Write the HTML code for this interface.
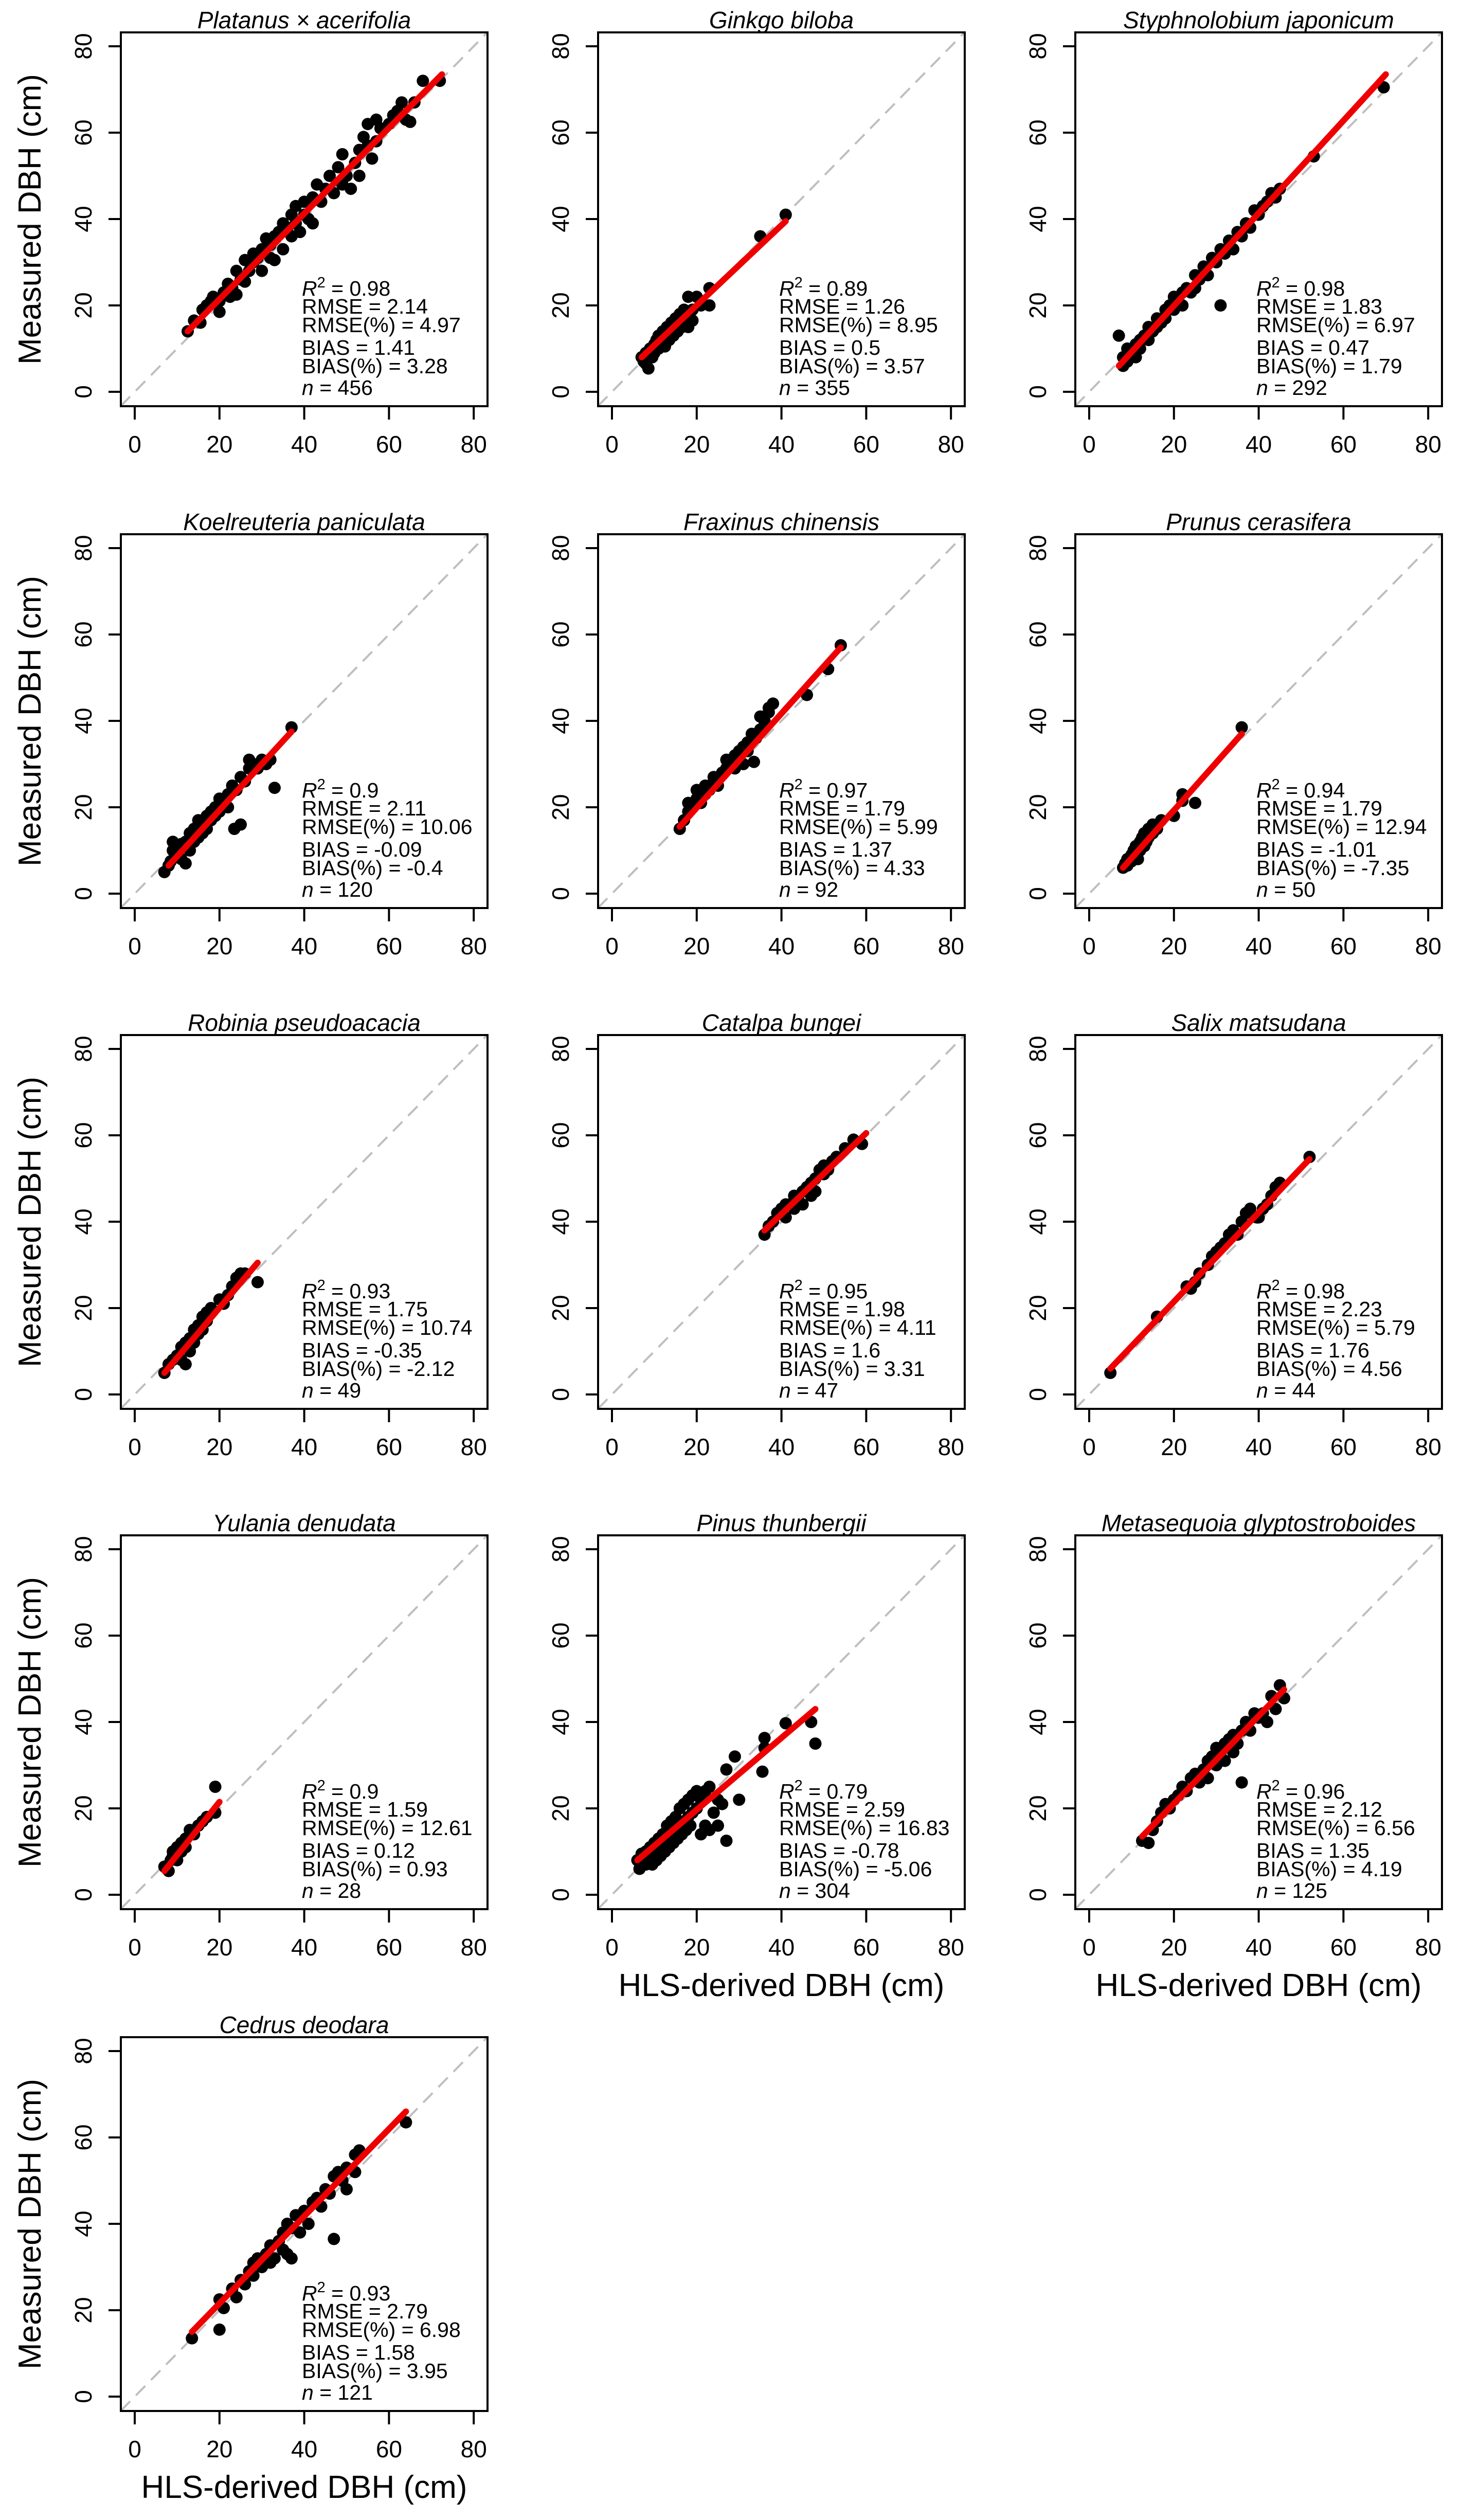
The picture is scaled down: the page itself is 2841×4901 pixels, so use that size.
<!DOCTYPE html>
<html><head><meta charset="utf-8">
<style>
html,body{margin:0;padding:0;background:#fff;}
svg{display:block;font-family:"Liberation Sans",Arial,sans-serif;}
</style></head>
<body>
<svg id="fig" width="2841" height="4901" viewBox="0 0 2841 4901" xmlns="http://www.w3.org/2000/svg"></svg>
<script>
const species = ["Platanus × acerifolia","Ginkgo biloba","Styphnolobium japonicum","Koelreuteria paniculata","Fraxinus chinensis","Prunus cerasifera","Robinia pseudoacacia","Catalpa bungei","Salix matsudana","Yulania denudata","Pinus thunbergii","Metasequoia glyptostroboides","Cedrus deodara"];
const r2 = ["0.98","0.89","0.98","0.9","0.97","0.94","0.93","0.95","0.98","0.9","0.79","0.96","0.93"];
const rmse = ["2.14","1.26","1.83","2.11","1.79","1.79","1.75","1.98","2.23","1.59","2.59","2.12","2.79"];
const rmsePct = ["4.97","8.95","6.97","10.06","5.99","12.94","10.74","4.11","5.79","12.61","16.83","6.56","6.98"];
const bias = ["1.41","0.5","0.47","-0.09","1.37","-1.01","-0.35","1.6","1.76","0.12","-0.78","1.35","1.58"];
const biasPct = ["3.28","3.57","1.79","-0.4","4.33","-7.35","-2.12","3.31","4.56","0.93","-5.06","4.19","3.95"];
const nObs = ["456","355","292","120","92","50","49","47","44","28","304","125","121"];
const fitX0 = [12.5,7,7,8,16,8,7,36,5,7,6,12.5,13.5];
const fitY0 = [14,8,6,6.5,15.5,6,5,38,6,5.5,8,13.5,15];
const fitX1 = [72.5,41,70,37,54,36,29,60,52,20,48,46,64];
const fitY1 = [73.5,39.5,73.5,37.5,57,37,30.5,60.5,54.5,21.5,43,47.5,66];
const tickVals = [0,20,40,60,80];
const tickLabels = ["0","20","40","60","80"];
const pts = [
[[12.5,14],[14,16.5],[15.5,16],[16,19],[17,20],[18,21],[18.5,22],[20,18.5],[20,21],[21,23],[22,25],[22.5,22],[23,24],[24,22.5],[24,28],[25,26],[26,30.5],[26,25.5],[27,28],[28,30],[28,32],[29,31],[30,28],[30,33],[31,35.5],[32,31],[32,34],[33,36],[33,30.5],[34,37],[35,33],[35,39],[36,38],[37,41],[37,36],[38,39],[38,43],[39,37],[40,44],[40,41],[41,40],[42,45],[42,39],[43,48],[44,44],[45,47],[46,50],[47,46],[48,52],[49,48],[49,55],[50,50],[51,47],[52,53],[53,56],[53,50],[54,59],[55,57],[55,62],[56,54],[57,63],[57,58],[58,61],[60,62],[61,64],[62,65],[63,67],[64,63],[65,62.5],[66,67],[68,72],[72,72]],
[[7,8],[7.5,7],[8,9],[8,6.5],[8.6,5.4],[9,10],[9.5,8],[10,11],[10,9],[10.5,12],[11,10],[11,13],[11.5,11],[12,12],[12,14],[12.5,10.5],[13,13],[13,15],[13.5,12],[14,14],[14,16],[14.5,13],[15,15],[15,17],[15.5,14],[16,16],[16,18],[16.5,15],[17,17],[17,19],[17.5,16],[18,18],[18,15],[19,19],[19,16.5],[18,22],[20,22],[21,20],[23,24],[23,20],[35,36],[41,41]],
[[7,13],[8,6],[8,8],[9,7],[9,10],[10,9],[11,11],[11,8],[12,12],[12,10],[13,13],[14,12],[14,15],[15,14],[16,17],[16,15],[17,16],[18,19],[18,17],[19,20],[20,19],[20,22],[21,21],[22,23],[22,20],[23,24],[24,23],[25,27],[25,24],[26,26],[27,29],[28,27],[29,31],[30,30],[31,20],[31,33],[32,32],[33,35],[34,33],[35,37],[36,36],[37,39],[38,38],[39,42],[40,41],[41,43],[42,44],[43,46],[44,45],[45,47],[53,54.5],[69.5,70.5]],
[[7,5],[8,6.5],[8.5,7.5],[9,10],[9,12],[10,9],[10,11],[11,8],[11,11.5],[12,7],[12,12],[13,10],[13,14],[14,12],[14,15],[15,13],[15,17],[16,14],[16,16],[17,18],[17,15],[18,19],[18,17],[19,20],[19,18],[20,22],[20,19],[21,21],[22,23],[22,20],[23,25],[23.5,15],[24,24],[25,16],[25,27],[26,26],[27,29],[27,31],[28,30],[29,29],[30,31],[31,30],[32,31],[33,24.5],[37,38.5]],
[[16,15],[17,17],[18,19],[18,21],[19,20],[20,22],[20,24],[21,21],[22,23],[22,25],[23,24],[24,26],[24,27],[25,25],[26,28],[27,29],[27,31],[28,30],[29,32],[29,29],[30,33],[31,34],[31,30],[32,35],[32,33],[33,37],[33.5,30.5],[34,36],[35,38],[35,41],[36,40],[37,43],[37,42],[38,44],[46,46],[51,52],[54,57.5]],
[[8,6],[8.5,7],[9,8],[9,6.5],[10,9],[10,7.5],[10.5,10],[11,9],[11,11],[11.5,8],[12,12],[12,10],[12.5,13],[13,11],[13,14],[13.5,12],[14,15],[14,13],[15,16],[15,14],[16,15],[17,17],[20,18],[22,23],[22,21.5],[25,21],[36,38.5]],
[[7,5],[8,7],[9,8],[10,9],[11,8],[11,11],[12,7],[12,12],[13,10],[13,13],[14,12],[14,15],[15,14],[15,16],[16,15],[16,18],[17,17],[17,19],[18,20],[20,22],[21,21],[22,23],[23,25],[24,27],[25,28],[26,28],[29,26]],
[[36,37],[37,39],[38,40],[39,42],[40,43],[41,41],[41,44],[42,44],[43,43],[43,46],[44,45],[45,47],[45,44],[46,48],[47,46],[47,49],[48,50],[48,47],[49,52],[50,51],[50,53],[51,52],[52,54],[53,55],[55,57],[57,59],[59,58]],
[[5,5],[16,18],[23,25],[24,24.5],[25,26],[26,28],[28,30],[29,32],[30,33],[31,34],[32,35],[33,37],[34,38],[35,37],[36,40],[37,42],[38,43],[39.5,41],[40,41],[41,43],[42,44],[43,46],[44,48],[45,49],[52,55]],
[[7,6.5],[8,5.5],[8.5,8],[9,9],[9,10],[10,8],[10,11],[11,12],[11,10],[12,11],[12,13],[13,15],[14,14],[15,16],[16,17],[17,18],[19,19],[19,25]],
[[6,8],[6.5,6],[7,8],[7,9.5],[8,7],[8,10],[8.5,9],[9,8],[9,11],[9.5,7],[10,10],[10,12],[10.5,8],[11,11],[11,13],[11.5,9],[12,12],[12,14],[12.5,10],[13,13],[13,16],[13.5,11],[14,14],[14,17],[14.5,12],[15,15],[15,18],[15.5,13],[16,16],[16,20],[16.5,14],[17,17],[17,21],[17.5,15],[18,18],[18,22],[18.5,16],[19,19],[19,23],[20,20],[20,24],[21,22],[21,14],[22,24],[22,16],[23,15],[23,25],[24,19],[25,16],[25,22],[26,21],[27,12.5],[27,29],[29,32],[30,22],[35.5,28.5],[36,36.3],[36,34],[41,39.7],[47,40],[48,35]],
[[12.5,12.5],[14,12],[15,15],[16,17],[17,19],[18,21],[19,20],[20,22],[21,23],[22,25],[23,24],[24,27],[25,28],[26,26],[27,29],[28,31],[28,27],[29,32],[30,30],[30,34],[31,33],[32,35],[32,31],[33,36],[34,37],[34,33],[35,35],[36,26],[36,38],[37,40],[38,38],[39,42],[40,41],[41,42],[42,40],[43,46],[44,43],[45,48.5],[46,45.5]],
[[13.5,13.5],[20,15.5],[20,22.5],[21,20.5],[23,25],[24,23],[25,27],[26,26],[27,29],[28,31],[28,28],[29,32],[30,30],[31,33],[32,35],[32,31],[33,32],[34,36],[35,34],[35,38],[36,40],[36,33],[37,32],[37,39],[38,42],[39,38],[40,43],[41,40],[42,45],[43,46],[44,44],[45,48],[46,47],[47,36.5],[47,51],[48,52],[49,50],[50,53],[50,48],[52,52],[52,56],[53,57],[64,63.5]]
];

const NS = "http://www.w3.org/2000/svg";
const svg = document.getElementById("fig");
const colL = [235,1163,2091];
const rowT = [63,1039,2013,2986,3962];
const BW = 713, BH = 727;
function mk(tag, attrs, parent){
  const e = document.createElementNS(NS, tag);
  for (const k in attrs) e.setAttribute(k, attrs[k]);
  parent.appendChild(e);
  return e;
}
const defs = mk("defs", {}, svg);

species.forEach((sp, i) => {
  const r = Math.floor(i/3), c = i%3;
  const L = colL[c], T = rowT[r];
  const xs = v => L + 27 + v*8.24;
  const ys = v => T + 699 - v*8.4;
  const g = mk("g", {}, svg);
  
  

  const cp = mk("clipPath", {id:"clip"+i}, defs);
  mk("rect", {x:L, y:T, width:BW, height:BH}, cp);

  const t = mk("text", {x:L+BW/2, y:T-8, "text-anchor":"middle", "font-size":46, "font-style":"italic"}, g);
  t.textContent = sp;
  
  

  const dl = mk("line", {x1:xs(-3.3), y1:ys(-3.3), x2:xs(83.4), y2:ys(83.4), stroke:"#bebebe", "stroke-width":4, "stroke-dasharray":"26 16", "clip-path":"url(#clip"+i+")"}, g);
  
  

  const pg = mk("g", {"clip-path":"url(#clip"+i+")"}, g);
  
  
  pts[i].forEach(p => {
    const ci = mk("circle", {cx:xs(p[0]), cy:ys(p[1]), r:12, fill:"#000"}, pg);
    
    
  });

  const fl = mk("line", {x1:xs(fitX0[i]), y1:ys(fitY0[i]), x2:xs(fitX1[i]), y2:ys(fitY1[i]), stroke:"#ee0000", "stroke-width":12, "stroke-linecap":"round"}, g);
  
  

  const bx = mk("rect", {x:L, y:T, width:BW, height:BH, fill:"none", stroke:"#000", "stroke-width":4}, g);
  
  

  tickVals.forEach((v, k) => {
    const xt = mk("line", {x1:xs(v), y1:T+BH+2, x2:xs(v), y2:T+BH+26, stroke:"#000", "stroke-width":4}, g);
    
    
    const xl = mk("text", {x:xs(v), y:T+BH+90, "text-anchor":"middle", "font-size":46}, g);
    xl.textContent = tickLabels[k];
    
    
    const yt = mk("line", {x1:L-24, y1:ys(v), x2:L-2, y2:ys(v), stroke:"#000", "stroke-width":4}, g);
    
    
    const yl = mk("text", {x:L-57, y:ys(v), "text-anchor":"middle", "font-size":46, transform:"rotate(-90 "+(L-57)+" "+ys(v)+")"}, g);
    yl.textContent = tickLabels[k];
    
    
  });

  const sx = L + 352;
  const st = mk("g", {"font-size":41}, g);
  
  
  const r2t = mk("text", {x:sx, y:T+512}, st);
  r2t.innerHTML = '<tspan font-style="italic">R</tspan><tspan dy="-16" font-size="29">2</tspan><tspan dy="16"> = ' + r2[i] + '</tspan>';
  const lines = ["RMSE = "+rmse[i], "RMSE(%) = "+rmsePct[i], "BIAS = "+bias[i], "BIAS(%) = "+biasPct[i]];
  const bl = [547,583,627,663];
  lines.forEach((s, k) => { const e = mk("text", {x:sx, y:T+bl[k]}, st); e.textContent = s; });
  const nt = mk("text", {x:sx, y:T+705}, st);
  nt.innerHTML = '<tspan font-style="italic">n</tspan> = ' + nObs[i];

  if (c === 0) {
    const cy = T + BH/2;
    const ya = mk("text", {x:79, y:cy, "text-anchor":"middle", "font-size":62, transform:"rotate(-90 79 "+cy+")"}, g);
    ya.textContent = "Measured DBH (cm)";
    
    
  }
  if (i >= 10) {
    const xa = mk("text", {x:L+BW/2, y:T+BH+169, "text-anchor":"middle", "font-size":62}, g);
    xa.textContent = "HLS-derived DBH (cm)";
    
    
  }
});
</script>
</body></html>
